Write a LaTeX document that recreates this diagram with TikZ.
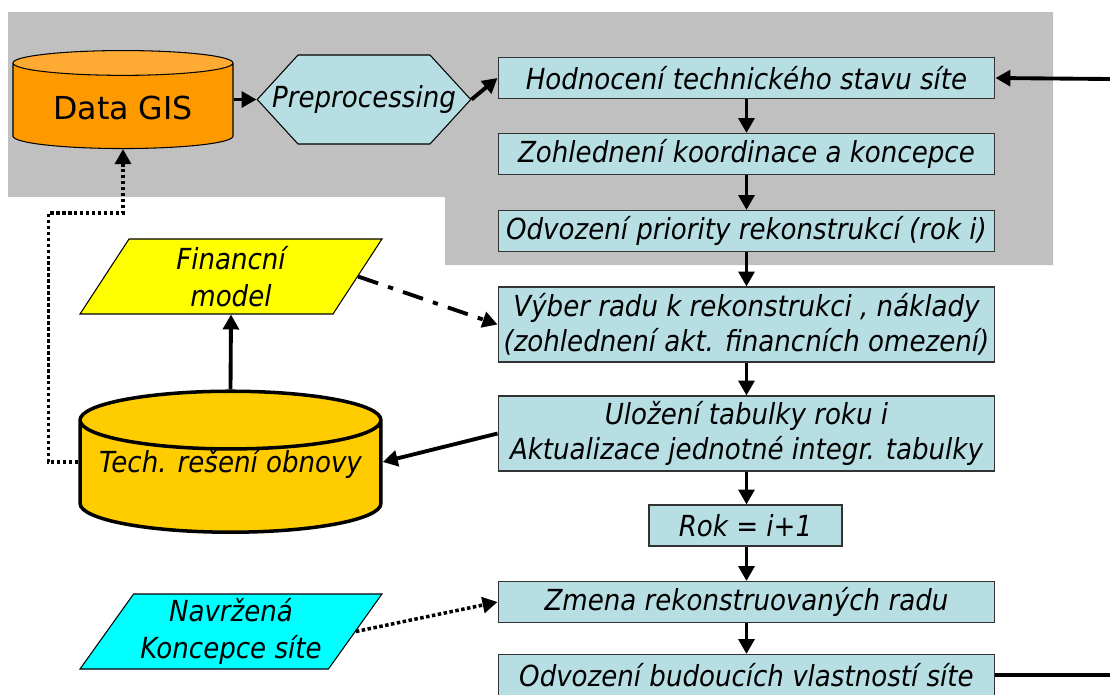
\documentclass[tikz,border=0pt]{standalone}
\usepackage{fontspec}
\setmainfont{DejaVu Sans}
\newfontfamily\condfont{DejaVu Sans Condensed Oblique}
\usetikzlibrary{shapes.geometric, shapes.symbols, arrows.meta, calc, positioning}
\usepackage{xcolor}
\definecolor{panelgrey}{HTML}{C0C0C0}
\definecolor{stepblue}{HTML}{B7DEE3}
\definecolor{gisorange}{HTML}{FF9900}
\definecolor{gistop}{HTML}{FFAA33}
\definecolor{techyellow}{HTML}{FFCC00}
\definecolor{finyellow}{HTML}{FFFF00}
\definecolor{navcyan}{HTML}{00FFFF}
\tikzstyle{arrow} = [line width=2.2pt, -{Triangle[length=8.5pt,width=9pt]}]
\tikzset{
  stepbox/.style = {
    rectangle,
    draw           = black!80,
    fill           = stepblue,
    line width     = 0.6pt,
    minimum width  = 9.94cm,
    minimum height = 0.82cm,
    inner sep      = 0pt,
    align          = center,
    font           = \condfont\fontsize{16.5}{20}\selectfont
  },
  prepbox/.style = {signal, signal to = east and west, signal pointer angle = 95,
    draw = black, fill = stepblue, line width = 0.6pt, inner sep = 0pt,
    minimum height = 1.78cm,
    font = \condfont\fontsize{16.5}{20}\selectfont},
  gisdb/.style   = {cylinder, shape border rotate = 90, aspect = 0.164,
    draw = black, line width = 0.6pt,
    cylinder uses custom fill, cylinder body fill = gisorange,
    cylinder end fill = gistop,
    minimum width = 4.4cm, minimum height = 1.96cm,
    font = \fontsize{18}{22}\selectfont},
  techdb/.style  = {cylinder, shape border rotate = 90, aspect = 0.21,
    draw = black, line width = 2pt, fill = techyellow,
    minimum width = 6.02cm, minimum height = 2.82cm,
    font = \condfont\fontsize{16.5}{20}\selectfont},
  datain/.style  = {trapezium, trapezium left angle = 51, trapezium right angle = 129,
    trapezium stretches body, draw = black, line width = 0.6pt,
    minimum width = 6.04cm, minimum height = 1.5cm, inner sep = 0pt,
    align = center, font = \condfont\fontsize{16.5}{21}\selectfont},
  dotarrow/.style   = {arrow, line width = 2pt, dash pattern = on 2pt off 1.4pt},
  dashdotarrow/.style = {arrow, line width = 2.2pt, dash pattern = on 12pt off 6pt on 3pt off 6pt}
}

\begin{document}
\begin{tikzpicture}[x=0.02cm, y=-0.02cm]
  \useasboundingbox (0,0) rectangle (1110,694);

  % Grey panel behind the data preparation
  \fill[panelgrey] (8,12) -- (1053,12) -- (1053,265) -- (445,265)
    -- (445,197) -- (8,197) -- cycle;

  % Sources
  \node[gisdb] (gis) at (123,108) {Data GIS};
  \node[prepbox] (prep) at (364,99.5) {\makebox[2.64cm]{Preprocessing}};

  % Main chain of steps
  \node[stepbox] (hodn) at (746.5,78) {Hodnocení technického stavu síte};
  \node[stepbox] (koord) at (746.5,154) {Zohlednení koordinace a koncepce};
  \node[stepbox] (prior) at (746.5,231) {Odvození priority rekonstrukcí (rok i)};
  \node[stepbox, minimum height=1.5cm] (vyber) at (746.5,324.5)
    {Výber radu k rekonstrukci , náklady\\(zohlednení akt. financních omezení)};
  \node[stepbox, minimum height=1.5cm] (ulozeni) at (746.5,433.5)
    {Uložení tabulky roku i\\Aktualizace jednotné integr. tabulky};
  \node[stepbox, minimum width=3.86cm] (rok) at (745.5,525.5) {Rok = i+1};
  \node[stepbox] (zmena) at (746.5,602) {Zmena rekonstruovaných radu};
  \node[stepbox] (odvoz) at (746.5,675) {Odvození budoucích vlastností síte};

  % Side inputs and store
  \node[datain, fill=finyellow] (fin) at (231,276.5) {Financní\\model};
  \node[techdb, label={[yshift=0.34cm, font=\condfont\fontsize{16.5}{20}\selectfont]center:Tech. rešení obnovy}]
    (tech) at (230.5,481) {\phantom{Tech. rešení obnovy}};
  \node[datain, fill=navcyan] (navrh) at (231,631.5) {Navržená\\Koncepce síte};

  % Loop ends at the right margin
  \coordinate (loopin) at (1110,79);
  \coordinate (loopout) at (1110,675);

  % Connectors
  \draw[arrow] (gis.east |- prep.west) -- (prep.west);
  \draw[arrow] (prep.east) -- (hodn.west);
  \draw[arrow] (loopin) -- (hodn.east);
  \draw[arrow] (hodn) -- (koord);
  \draw[arrow] (koord) -- (prior);
  \draw[arrow] (prior) -- (vyber);
  \draw[arrow] (vyber) -- (ulozeni);
  \draw[arrow] (ulozeni) -- (ulozeni |- rok.north);
  \draw[arrow] (rok.south -| zmena) -- (zmena);
  \draw[arrow] (zmena) -- (odvoz);
  \draw[line width=2.2pt] (odvoz.east) -- (loopout);
  \draw[arrow] (ulozeni.west) -- (tech.east |- 0,462);
  \draw[arrow] (tech.north) -- (fin.south);
  \draw[dashdotarrow] (fin.east) -- (vyber.west);
  \draw[dotarrow] (tech.west |- 0,462) -- ++(-30,0) |- ($(gis.south)+(0,64)$) -- (gis.south);
  \draw[dotarrow] (navrh.east) -- (zmena.west);
\end{tikzpicture}
\end{document}
